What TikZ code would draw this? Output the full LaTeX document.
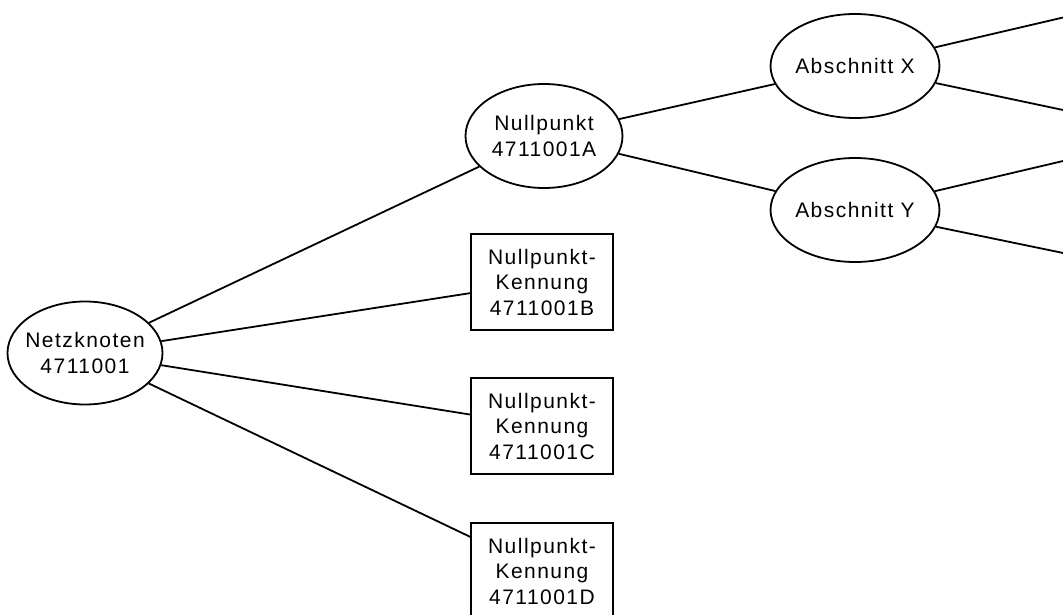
\documentclass[tikz,border=0pt]{standalone}
\usepackage{fontspec}
\setmainfont{Liberation Sans}[LetterSpace=7]
\usetikzlibrary{shapes.geometric}
\begin{document}
\begin{tikzpicture}[x=1pt,y=-1pt, line width=1.8pt,
  lbl/.style={align=center, font=\fontsize{21}{25.5}\selectfont},
  oval/.style={ellipse, draw, lbl, minimum width=157pt, minimum height=104pt, inner sep=0pt},
  kbox/.style={rectangle, draw, lbl, minimum width=142pt, minimum height=96pt, inner sep=0pt},
  link/.style={draw, line width=1.8pt}]
\useasboundingbox (0,0) rectangle (1063,615);
\clip (0,0) rectangle (1063,615);
\node[oval, minimum width=155pt, minimum height=103pt, inner xsep=-12pt] (netz) at (85,353) {Netzknoten\\4711001};
\node[oval] (nA) at (544,136) {Nullpunkt\\4711001A};
\node[oval] (absX) at (855,66) {Abschnitt X};
\node[oval] (absY) at (855,210) {Abschnitt Y};
\node[kbox] (kB) at (542,282) {Nullpunkt-\\Kennung\\4711001B};
\node[kbox] (kC) at (542,426) {Nullpunkt-\\Kennung\\4711001C};
\node[kbox] (kD) at (542,571) {Nullpunkt-\\Kennung\\4711001D};
\coordinate (x1) at (1100,8.9);
\coordinate (x2) at (1100,117.8);
\coordinate (y1) at (1100,152.3);
\coordinate (y2) at (1100,260.6);
\path[link] (netz) -- (nA);
\path[link] (netz) -- (kB);
\path[link] (netz) -- (kC);
\path[link] (netz) -- (kD);
\path[link] (nA) -- (absX);
\path[link] (nA) -- (absY);
\path[link] (absX) -- (x1);
\path[link] (absX) -- (x2);
\path[link] (absY) -- (y1);
\path[link] (absY) -- (y2);
\end{tikzpicture}
\end{document}
